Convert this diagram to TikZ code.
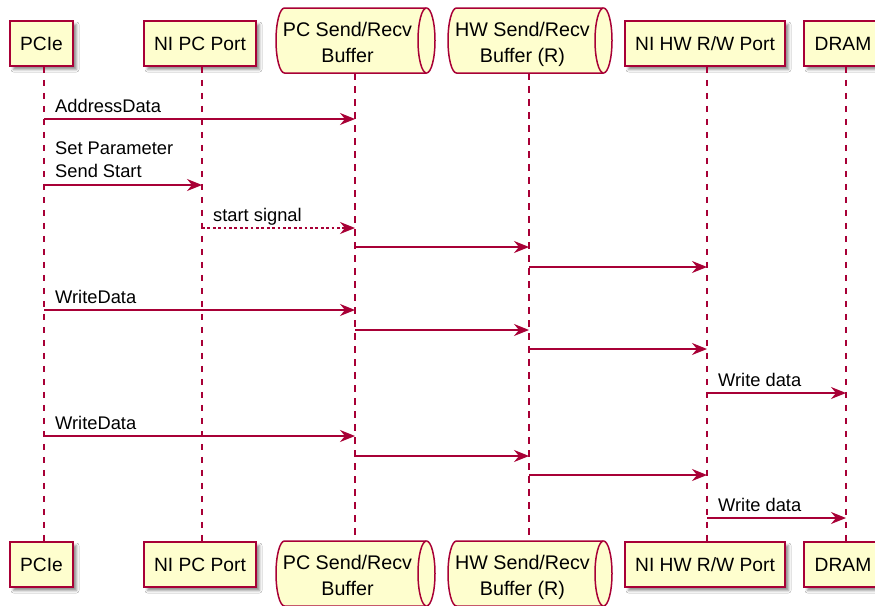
\documentclass[tikz,border=0pt]{standalone}
\usepackage{fontspec}
\setmainfont{Liberation Sans}
\usetikzlibrary{arrows.meta,shadows.blur}
\definecolor{pred}{HTML}{A80036}
\definecolor{pfill}{HTML}{FEFECE}
\newcommand\partfont{\fontsize{19.2}{22.5}\selectfont}
\newcommand\cylfont{\fontsize{19.7}{26.5}\selectfont}
\newcommand\msgfont{\fontsize{18.3}{23}\selectfont}
\newcommand\myqueue[4]{%
  \pgfmathsetmacro\qry{(#4-#3)/2}%
  \pgfmathsetmacro\qlx{#1+8.5}%
  \pgfmathsetmacro\qrx{#2-8.5}%
  \filldraw[qshape] (\qlx,#3) -- (\qrx,#3)
     arc[start angle=-90,end angle=90,x radius=8.5,y radius=\qry]
     -- (\qlx,#4)
     arc[start angle=90,end angle=270,x radius=8.5,y radius=\qry] -- cycle;
  \draw[qshape] (\qrx,#3) arc[start angle=-90,end angle=-270,x radius=8.5,y radius=\qry];
}
\begin{document}
\begin{tikzpicture}[x=1pt,y=-1pt,
  pbox/.style={draw=pred,fill=pfill,line width=1.5pt,font=\partfont,
    minimum height=45,inner sep=0pt,
    blur shadow={shadow xshift=3.5pt,shadow yshift=-3.5pt,shadow blur radius=2.5pt,shadow opacity=45}},
  qshape/.style={draw=pred,fill=pfill,line width=1.5pt},
  qtext/.style={font=\cylfont,align=center,inner sep=0pt},
  life/.style={draw=pred,line width=1.3pt,dash pattern=on 6.5pt off 6.5pt},
  msg/.style={draw=pred,line width=1.3pt,-{Stealth[length=15pt,width=12pt,inset=5pt]}},
  dmsg/.style={msg,dash pattern=on 2.7pt off 2.7pt},
  lbl/.style={font=\msgfont,inner sep=0pt,anchor=base west},
  lbltwo/.style={font=\msgfont,inner sep=0pt,anchor=south west,align=left}]
\useasboundingbox (0,0) rectangle (875,605);
\fill[white] (0,0) rectangle (875,605);

% lifeline x positions
\coordinate (L1) at (44,0);
\coordinate (L2) at (202,0);
\coordinate (L3) at (355,0);
\coordinate (L4) at (529,0);
\coordinate (L5) at (707,0);
\coordinate (L6) at (846,0);

% top participants
\node[pbox,minimum width=63] (pcie) at (41.5,43.5) {PCIe};
\node[pbox,minimum width=112] (nipc) at (200,43.5) {NI PC Port};
\myqueue{276}{435}{8}{73}
\node[qtext] (pcb) at (347.5,42.5) {PC Send/Recv\\Buffer};
\myqueue{448}{612}{8}{73}
\node[qtext] (hwb) at (522.5,44.2) {HW Send/Recv\\Buffer (R)};
\node[pbox,minimum width=160] (nihw) at (705,43.5) {NI HW R/W Port};
\node[pbox,minimum width=78] (dram) at (843,43.5) {DRAM};

% bottom participants
\node[pbox,minimum width=63] (pcieb) at (41.5,564.5) {PCIe};
\node[pbox,minimum width=112] (nipcb) at (200,564.5) {NI PC Port};
\myqueue{276}{435}{541}{606}
\node[qtext] (pcbb) at (347.5,575.5) {PC Send/Recv\\Buffer};
\myqueue{448}{612}{541}{606}
\node[qtext] (hwbb) at (522.5,577.2) {HW Send/Recv\\Buffer (R)};
\node[pbox,minimum width=160] (nihwb) at (705,564.5) {NI HW R/W Port};
\node[pbox,minimum width=78] (dramb) at (843,564.5) {DRAM};

% lifelines
\coordinate (qtop) at (0,73);
\coordinate (qbot) at (0,541);
\draw[life] (L1 |- pcie.south) -- (L1 |- pcieb.north);
\draw[life] (L2 |- nipc.south) -- (L2 |- nipcb.north);
\draw[life] (L3 |- qtop) -- (L3 |- qbot);
\draw[life] (L4 |- qtop) -- (L4 |- qbot);
\draw[life] (L5 |- nihw.south) -- (L5 |- nihwb.north);
\draw[life] (L6 |- dram.south) -- (L6 |- dramb.north);

% message rows
\coordinate (r1) at (0,119);
\coordinate (r2) at (0,185);
\coordinate (r3) at (0,228);
\coordinate (r4) at (0,247);
\coordinate (r5) at (0,267);
\coordinate (r6) at (0,310);
\coordinate (r7) at (0,330);
\coordinate (r8) at (0,349);
\coordinate (r9) at (0,393);
\coordinate (r10) at (0,436);
\coordinate (r11) at (0,456);
\coordinate (r12) at (0,475);
\coordinate (r13) at (0,518);

\draw[msg] (L1 |- r1) -- (L3 |- r1);
\node[lbl] (m1) at (55,112) {AddressData};
\draw[msg] (L1 |- r2) -- (L2 |- r2);
\node[lbltwo] (m2) at (55,178) {Set Parameter\\Send Start};
\draw[dmsg] (L2 |- r3) -- (L3 |- r3);
\node[lbl] (m3) at (213,221) {start signal};
\draw[msg] (L3 |- r4) -- (L4 |- r4);
\draw[msg] (L4 |- r5) -- (L5 |- r5);
\draw[msg] (L1 |- r6) -- (L3 |- r6);
\node[lbl] (m6) at (55,303) {WriteData};
\draw[msg] (L3 |- r7) -- (L4 |- r7);
\draw[msg] (L4 |- r8) -- (L5 |- r8);
\draw[msg] (L5 |- r9) -- (L6 |- r9);
\node[lbl] (m9) at (718,386) {Write data};
\draw[msg] (L1 |- r10) -- (L3 |- r10);
\node[lbl] (m10) at (55,429) {WriteData};
\draw[msg] (L3 |- r11) -- (L4 |- r11);
\draw[msg] (L4 |- r12) -- (L5 |- r12);
\draw[msg] (L5 |- r13) -- (L6 |- r13);
\node[lbl] (m13) at (718,511) {Write data};
\end{tikzpicture}
\end{document}
